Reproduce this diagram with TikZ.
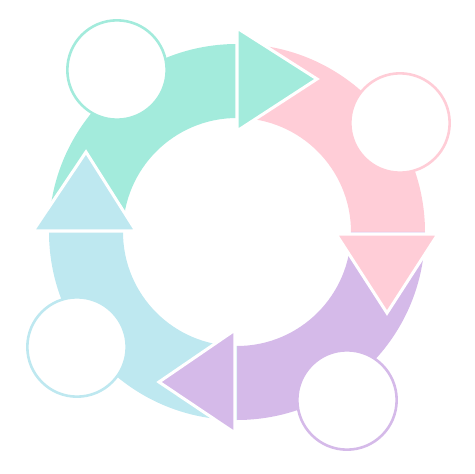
\documentclass[tikz,border=0pt]{standalone}
\usepackage{tikz}
\definecolor{mint}{RGB}{163,235,220}
\definecolor{rose}{RGB}{255,205,215}
\definecolor{lilac}{RGB}{213,186,233}
\definecolor{sky}{RGB}{190,232,240}

\begin{document}
\begin{tikzpicture}[scale=0.03,
  every node/.style={draw, circle, fill=white, line width=2.2pt, minimum size=2.98cm, inner sep=0pt},
  head/.style={draw=white, line width=2.6pt}]
\useasboundingbox (-237,-242) rectangle (237,232);

% ring pieces
\fill[mint] (90:188) arc[start angle=90, end angle=180, radius=188] -- (180:114) arc[start angle=180, end angle=90, radius=114] -- cycle;
\fill[rose] (0:188) arc[start angle=0, end angle=90, radius=188] -- (90:114) arc[start angle=90, end angle=0, radius=114] -- cycle;
\fill[lilac] (270:188) arc[start angle=270, end angle=360, radius=188] -- (0:114) arc[start angle=360, end angle=270, radius=114] -- cycle;
\fill[sky] (180:188) arc[start angle=180, end angle=270, radius=188] -- (270:114) arc[start angle=270, end angle=180, radius=114] -- cycle;

% heads
\filldraw[head, fill=mint] (0,101) -- (0,204) -- (80,153) -- cycle;
\filldraw[head, fill=rose] (99,-2) -- (201,-2) -- (150,-81) -- cycle;
\filldraw[head, fill=lilac] (-2,-98) -- (-2,-201) -- (-78,-150) -- cycle;
\filldraw[head, fill=sky] (-101,1) -- (-204,1) -- (-151,80) -- cycle;

% circles
\node[draw=mint] (c1) at (-120,162) {};
\node[draw=rose] (c2) at (163,109) {};
\node[draw=lilac] (c3) at (110,-168) {};
\node[draw=sky] (c4) at (-160,-115) {};
\end{tikzpicture}
\end{document}
